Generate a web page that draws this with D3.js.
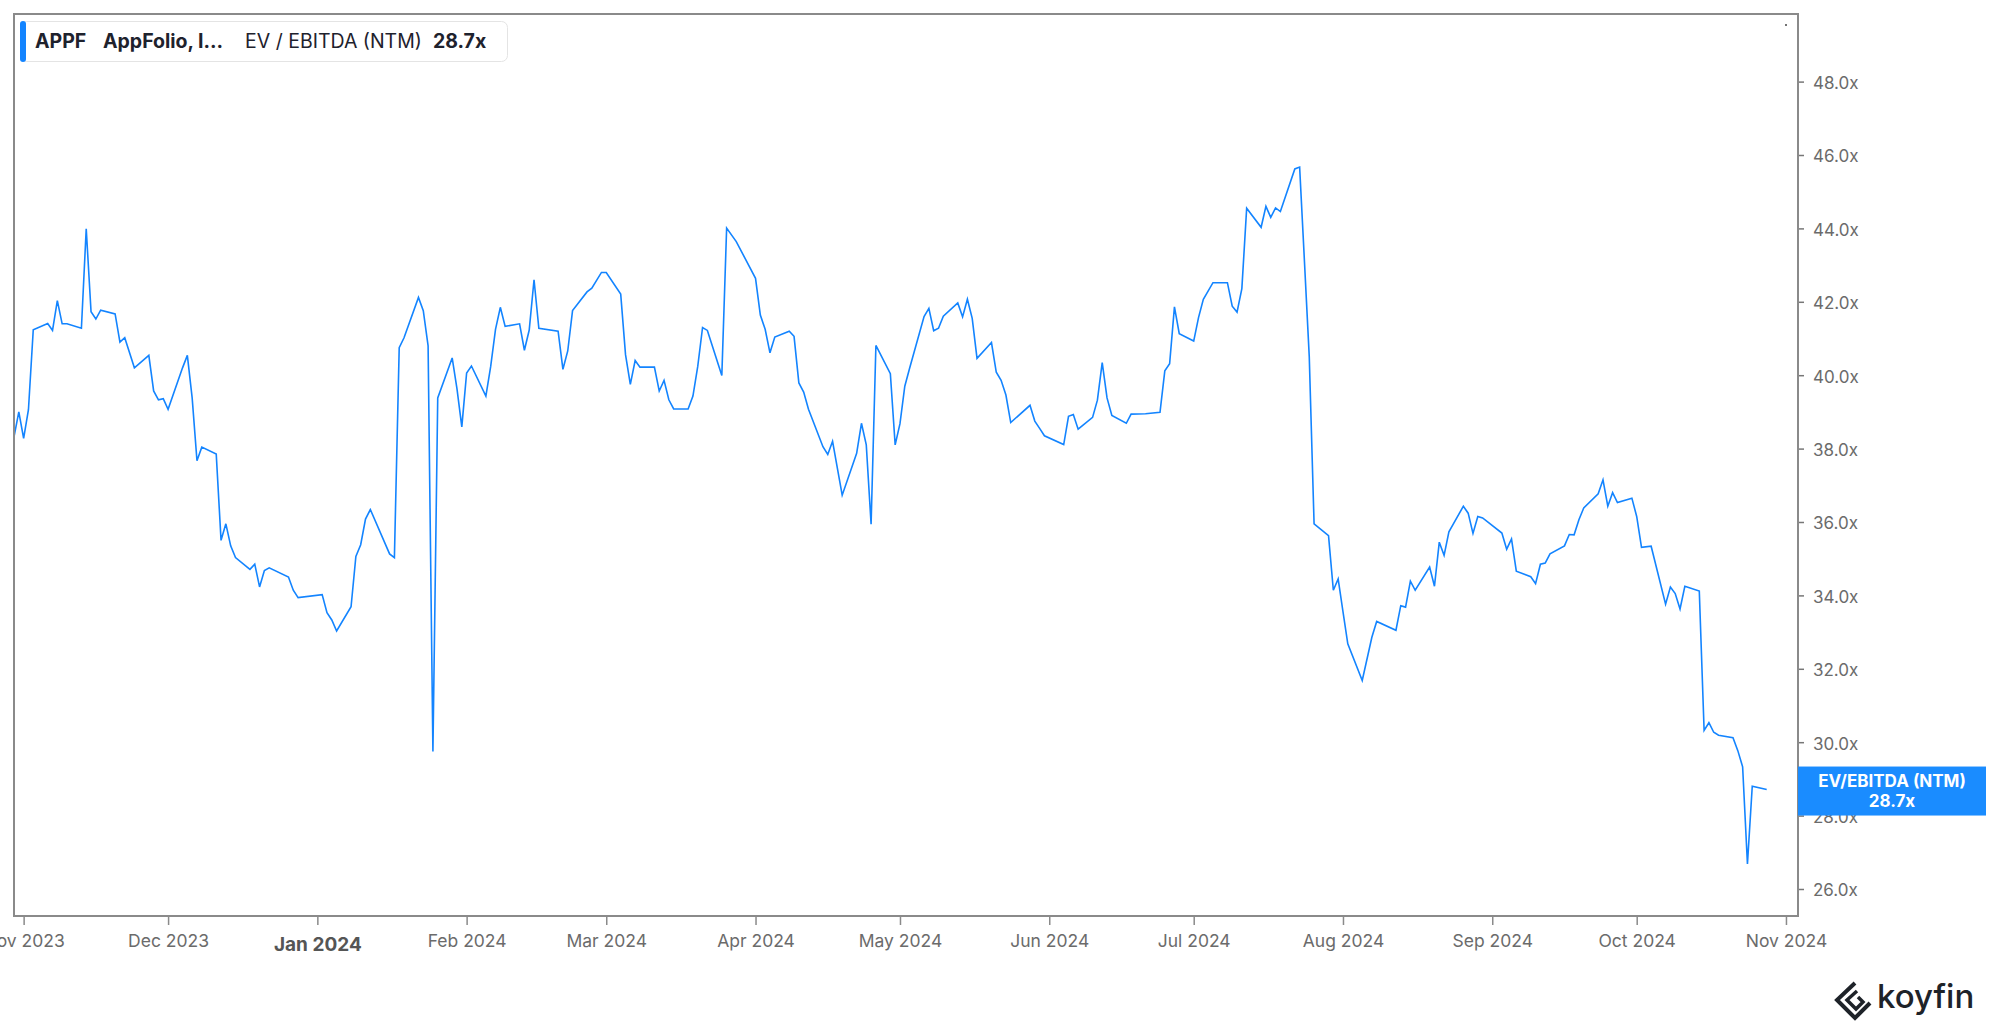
<!DOCTYPE html>
<html>
<head>
<meta charset="utf-8">
<script src="https://cdn.jsdelivr.net/npm/d3@7"></script>
<style>
  html, body { margin: 0; padding: 0; background: #fff; }
  svg { display: block; font-family: Inter, "Noto Sans", sans-serif; }
</style>
</head>
<body>
<svg id="chart" width="2000" height="1033"></svg>
<script>
// ---- Data (EV / EBITDA NTM, APPF) ----
const dates = [
"2023-10-30","2023-10-31","2023-11-01","2023-11-02","2023-11-03","2023-11-06","2023-11-07","2023-11-08","2023-11-09","2023-11-10",
"2023-11-13","2023-11-14","2023-11-15","2023-11-16","2023-11-17","2023-11-20","2023-11-21","2023-11-22","2023-11-24","2023-11-27",
"2023-11-28","2023-11-29","2023-11-30","2023-12-01","2023-12-04","2023-12-05","2023-12-06","2023-12-07","2023-12-08","2023-12-11",
"2023-12-12","2023-12-13","2023-12-14","2023-12-15","2023-12-18","2023-12-19","2023-12-20","2023-12-21","2023-12-22","2023-12-26",
"2023-12-27","2023-12-28","2024-01-02","2024-01-03","2024-01-04","2024-01-05","2024-01-08","2024-01-09","2024-01-10","2024-01-11",
"2024-01-12","2024-01-16","2024-01-17","2024-01-18","2024-01-19","2024-01-22","2024-01-23","2024-01-24","2024-01-25","2024-01-26",
"2024-01-29","2024-01-30","2024-01-31","2024-02-01","2024-02-02","2024-02-05","2024-02-06","2024-02-07","2024-02-08","2024-02-09",
"2024-02-12","2024-02-13","2024-02-14","2024-02-15","2024-02-16","2024-02-20","2024-02-21","2024-02-22","2024-02-23","2024-02-26",
"2024-02-27","2024-02-29","2024-03-01","2024-03-04","2024-03-05","2024-03-06","2024-03-07","2024-03-08","2024-03-11","2024-03-12",
"2024-03-13","2024-03-14","2024-03-15","2024-03-18","2024-03-19","2024-03-20","2024-03-21","2024-03-22","2024-03-25","2024-03-26",
"2024-03-28","2024-04-01","2024-04-02","2024-04-03","2024-04-04","2024-04-05","2024-04-08","2024-04-09","2024-04-10","2024-04-11",
"2024-04-12","2024-04-15","2024-04-16","2024-04-17","2024-04-19","2024-04-22","2024-04-23","2024-04-24","2024-04-25","2024-04-26",
"2024-04-29","2024-04-30","2024-05-01","2024-05-02","2024-05-03","2024-05-06","2024-05-07","2024-05-08","2024-05-09","2024-05-10",
"2024-05-13","2024-05-14","2024-05-15","2024-05-16","2024-05-17","2024-05-20","2024-05-21","2024-05-22","2024-05-23","2024-05-24",
"2024-05-28","2024-05-29","2024-05-30","2024-05-31","2024-06-04","2024-06-05","2024-06-06","2024-06-07","2024-06-10","2024-06-11",
"2024-06-12","2024-06-13","2024-06-14","2024-06-17","2024-06-18","2024-06-21","2024-06-24","2024-06-25","2024-06-26","2024-06-27",
"2024-06-28","2024-07-01","2024-07-02","2024-07-03","2024-07-05","2024-07-08","2024-07-09","2024-07-10","2024-07-11","2024-07-12",
"2024-07-15","2024-07-16","2024-07-17","2024-07-18","2024-07-19","2024-07-22","2024-07-23","2024-07-24","2024-07-25","2024-07-26",
"2024-07-29","2024-07-30","2024-07-31","2024-08-01","2024-08-02","2024-08-05","2024-08-07","2024-08-08","2024-08-12","2024-08-13",
"2024-08-14","2024-08-15","2024-08-16","2024-08-19","2024-08-20","2024-08-21","2024-08-22","2024-08-23","2024-08-26","2024-08-27",
"2024-08-28","2024-08-29","2024-08-30","2024-09-03","2024-09-04","2024-09-05","2024-09-06","2024-09-09","2024-09-10","2024-09-11",
"2024-09-12","2024-09-13","2024-09-16","2024-09-17","2024-09-18","2024-09-19","2024-09-20","2024-09-23","2024-09-24","2024-09-25",
"2024-09-26","2024-09-27","2024-09-30","2024-10-01","2024-10-02","2024-10-04","2024-10-07","2024-10-08","2024-10-09","2024-10-10",
"2024-10-11","2024-10-14","2024-10-15","2024-10-16","2024-10-17","2024-10-18","2024-10-21","2024-10-22","2024-10-23","2024-10-24",
"2024-10-25","2024-10-28"
];
const values = [
38.32,39.00,38.28,39.06,41.24,41.41,41.22,42.03,41.40,41.40,
41.28,43.99,41.73,41.53,41.77,41.67,40.90,41.02,40.20,40.54,
39.57,39.33,39.36,39.07,40.20,40.54,39.38,37.67,38.04,37.85,
35.50,35.95,35.35,35.03,34.71,34.85,34.23,34.68,34.75,34.50,
34.14,33.94,34.02,33.53,33.33,33.03,33.69,35.06,35.38,36.08,
36.34,35.13,35.03,40.75,41.02,42.12,41.76,40.80,29.75,39.38,
40.47,39.63,38.59,40.06,40.25,39.43,40.24,41.25,41.85,41.33,
41.40,40.68,41.23,42.60,41.28,41.20,40.16,40.66,41.76,42.27,
42.37,42.80,42.80,42.21,40.56,39.75,40.40,40.22,40.22,39.57,
39.86,39.33,39.08,39.08,39.43,40.24,41.30,41.22,39.99,44.01,
43.64,42.64,41.64,41.25,40.61,41.04,41.20,41.06,39.79,39.54,
39.07,38.05,37.84,38.20,36.73,37.87,38.69,38.10,35.94,40.81,
40.04,38.10,38.68,39.70,40.19,41.60,41.82,41.21,41.28,41.61,
41.97,41.59,42.07,41.55,40.46,40.89,40.08,39.86,39.46,38.71,
39.18,38.75,38.55,38.35,38.11,38.88,38.93,38.53,38.85,39.32,
40.34,39.38,38.90,38.69,38.94,38.95,38.99,40.12,40.31,41.86,
41.13,40.93,41.57,42.07,42.52,42.52,41.88,41.72,42.36,44.55,
44.03,44.60,44.30,44.56,44.46,45.62,45.67,43.10,40.50,35.95,
35.63,34.14,34.45,33.56,32.68,31.68,32.86,33.29,33.05,33.72,
33.68,34.39,34.14,34.77,34.25,35.45,35.09,35.73,36.43,36.24,
35.69,36.15,36.11,35.70,35.26,35.54,34.66,34.51,34.32,34.85,
34.88,35.13,35.35,35.66,35.65,36.06,36.38,36.77,37.15,36.43,
36.80,36.53,36.65,36.15,35.31,35.34,33.76,34.23,34.05,33.63,
34.25,34.12,30.32,30.53,30.27,30.19,30.12,29.77,29.33,26.68,
28.80,28.71
];
const xTickLabels = ["Nov 2023","Dec 2023","Jan 2024","Feb 2024","Mar 2024","Apr 2024","May 2024",
                     "Jun 2024","Jul 2024","Aug 2024","Sep 2024","Oct 2024","Nov 2024"];
const yTickValues = [26,28,30,32,34,36,38,40,42,44,46,48];
const seriesTicker = "APPF";
const seriesName = "AppFolio, I…";
const metricName = "EV / EBITDA (NTM)";
const lastLabel = "28.7x";
const badgeTitle = "EV/EBITDA (NTM)";

// ---- Layout ----
const svg = d3.select("#chart");
const W = 2000, H = 1033;
const plot = { left: 14, top: 14, right: 1798, bottom: 916 };
const blue = "#1384ff";

const parse = d3.utcParse("%Y-%m-%d");
const parseMonth = d3.utcParse("%b %Y");
const data = dates.map((d, i) => ({ date: parse(d), value: values[i] }));

const x = d3.scaleUtc()
  .domain([Date.UTC(2023, 9, 30), Date.UTC(2024, 10, 3, 12)])
  .range([plot.left, plot.right]);
const y = d3.scaleLinear()
  .domain([25.264, 49.842])
  .range([plot.bottom, plot.top]);

svg.append("rect").attr("width", W).attr("height", H).attr("fill", "#fff");

// clip
svg.append("defs").append("clipPath").attr("id", "clip")
  .append("rect")
  .attr("x", plot.left).attr("y", plot.top)
  .attr("width", plot.right - plot.left).attr("height", plot.bottom - plot.top);

// line
const line = d3.line().x(d => x(d.date)).y(d => y(d.value));
svg.append("path")
  .datum(data)
  .attr("clip-path", "url(#clip)")
  .attr("fill", "none")
  .attr("stroke", blue)
  .attr("stroke-width", 1.6)
  .attr("stroke-linejoin", "miter")
  .attr("d", line);

// plot frame
svg.append("rect")
  .attr("x", plot.left).attr("y", plot.top)
  .attr("width", plot.right - plot.left).attr("height", plot.bottom - plot.top)
  .attr("fill", "none").attr("stroke", "#8a8a8a").attr("stroke-width", 2);

// tiny marker at top-right
svg.append("circle").attr("cx", 1786).attr("cy", 25).attr("r", 1).attr("fill", "#444");

// ---- Y axis (right) ----
const yAxis = d3.axisRight(y)
  .tickValues(yTickValues)
  .tickSize(5)
  .tickPadding(9)
  .tickFormat(d => d3.format(".1f")(d) + "x");
const gy = svg.append("g").attr("transform", `translate(${plot.right + 1},0)`).call(yAxis);
gy.select(".domain").remove();
gy.selectAll(".tick line").attr("stroke", "#777").attr("stroke-width", 1.5);
gy.selectAll(".tick text")
  .attr("fill", "#6b6b6b")
  .attr("dy", "0.4em")
  .style("font-family", "Inter, sans-serif")
  .style("font-size", "17px");

// ---- X axis ----
const xTicks = xTickLabels.map(s => parseMonth(s));
const xAxis = d3.axisBottom(x)
  .tickValues(xTicks)
  .tickSize(8)
  .tickPadding(8)
  .tickFormat(d => d3.utcFormat("%b %Y")(d));
const gx = svg.append("g").attr("transform", `translate(0,${plot.bottom + 1})`).call(xAxis);
gx.select(".domain").remove();
gx.selectAll(".tick line").attr("stroke", "#8a8a8a").attr("stroke-width", 1.5);
gx.selectAll(".tick text")
  .attr("fill", "#6b6b6b")
  .style("font-family", "Inter, sans-serif")
  .style("font-size", "17.5px")
  .attr("dy", "0.8em")
  .filter(d => d3.utcFormat("%b %Y")(d) === "Jan 2024")
  .attr("fill", "#555")
  .style("font-size", "19px")
  .style("font-weight", "700")
  .attr("dy", "0.95em");

// ---- Last value badge ----
const last = data[data.length - 1];
const badge = svg.append("g");
const by = y(last.value);
badge.append("rect")
  .attr("x", plot.right).attr("y", by - 23)
  .attr("width", 188).attr("height", 49)
  .attr("fill", "#1a8cff");
badge.append("text")
  .attr("x", plot.right + 94).attr("y", by - 3)
  .attr("text-anchor", "middle")
  .attr("fill", "#fff")
  .style("font-size", "17px").style("font-weight", "700")
  .text(badgeTitle);
badge.append("text")
  .attr("x", plot.right + 94).attr("y", by + 17)
  .attr("text-anchor", "middle")
  .attr("fill", "#fff")
  .style("font-size", "17px").style("font-weight", "700")
  .text(lastLabel);

// ---- Legend ----
const lg = svg.append("g");
lg.append("rect")
  .attr("x", 20.5).attr("y", 21.5).attr("width", 487).attr("height", 40)
  .attr("rx", 6).attr("fill", "#fff").attr("stroke", "#e4e4e4").attr("stroke-width", 1);
lg.append("rect")
  .attr("x", 20).attr("y", 21).attr("width", 6).attr("height", 41)
  .attr("rx", 3).attr("fill", blue);
const legendTexts = [
  { t: seriesTicker, x: 35, w: 700 },
  { t: seriesName, x: 103, w: 700 },
  { t: metricName, x: 245, w: 400 },
  { t: lastLabel, x: 433, w: 700 }
];
lg.selectAll("text.lg").data(legendTexts).enter().append("text")
  .attr("class", "lg")
  .attr("x", d => d.x).attr("y", 48)
  .attr("fill", "#1e222d")
  .style("font-size", "19.5px")
  .style("font-weight", d => d.w)
  .text(d => d.t);

// ---- koyfin logo ----
const logo = svg.append("g");
logo.append("path")
  .attr("d", "M1855,983 L1837,1000 L1855,1018 L1870,1003")
  .attr("fill", "none").attr("stroke", "#1e2329").attr("stroke-width", 4).attr("stroke-linejoin", "miter");
logo.append("path")
  .attr("d", "M1857,991 L1847,1000 L1856,1009 L1863,1002 L1858,997")
  .attr("fill", "none").attr("stroke", "#1e2329").attr("stroke-width", 3.5).attr("stroke-linejoin", "miter");
logo.append("text")
  .attr("x", 1877).attr("y", 1008)
  .attr("fill", "#1e2329")
  .style("font-size", "33px").style("font-weight", "500")
  .text("koyfin");
</script>
</body>
</html>
